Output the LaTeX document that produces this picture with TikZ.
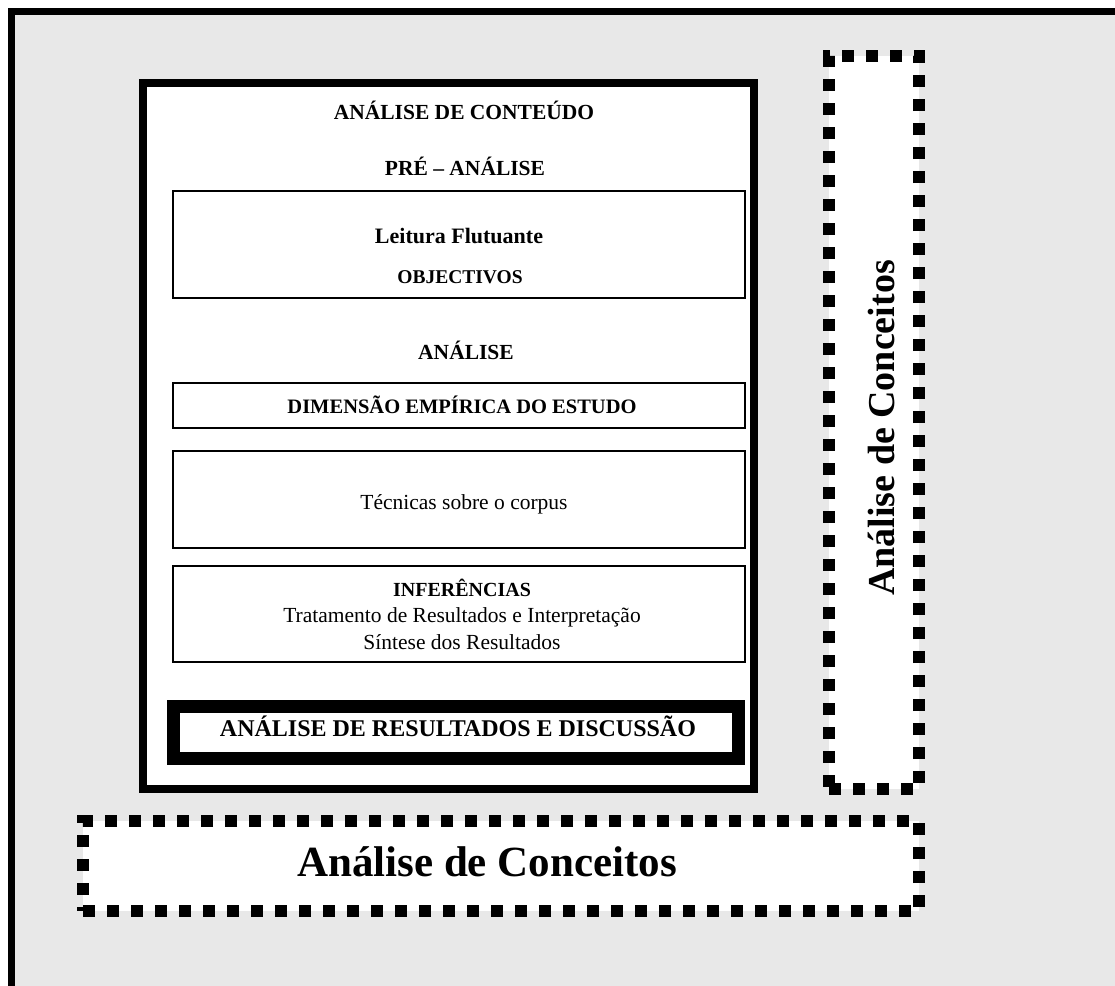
\documentclass[tikz,border=0pt]{standalone}
\usepackage{fontspec}
\setmainfont{Liberation Serif}
\usetikzlibrary{positioning}
\definecolor{paper}{HTML}{E8E8E8}
\tikzset{
  framebox/.style={draw, line width=8pt, fill=white, inner sep=0pt},
  thinbox/.style={draw, line width=2.5pt, fill=white, inner sep=0pt, minimum width=572pt},
  heavybox/.style={draw, line width=13pt, fill=white, inner sep=0pt},
  dotbox/.style={draw, line width=12pt, dash pattern=on 12pt off 12pt, fill=white, inner sep=0pt},
  titletext/.style={font=\fontsize{21.5}{25}\selectfont\bfseries, anchor=base, inner sep=0pt},
  subhead/.style={font=\fontsize{19.5}{23}\selectfont\bfseries, anchor=base, inner sep=0pt},
  bodytext/.style={font=\fontsize{21.5}{26.5}\selectfont, align=center, inner sep=0pt}
}
\begin{document}
\begin{tikzpicture}[x=1pt, y=-1pt]
    \useasboundingbox (0,0) rectangle (1115,985);
    \clip (0,0) rectangle (1115,985);

    % page and frame
    \fill[paper] (11,11) rectangle (1125,995);
    \draw[line width=7pt] (11,1000) -- (11,11) -- (1130,11);

    % main box
    \node[framebox, minimum width=611pt, minimum height=706pt] (conteudo) at (448.5,436) {};
    \node[titletext] (tconteudo) at (464,119) {ANÁLISE DE CONTEÚDO};
    \node[titletext] (tpre) at (465,175) {PRÉ – ANÁLISE};

    % pre-analise
    \node[thinbox, minimum height=107pt] (pre) at (459,244.5) {};
    \node[subhead, font=\fontsize{22}{26}\selectfont\bfseries] (leitura) at (459,243) {Leitura Flutuante};
    \node[subhead] (objectivos) at (460,283) {OBJECTIVOS};

    % analise
    \node[titletext] (tanalise) at (466,359) {ANÁLISE};
    \node[thinbox, minimum height=45pt] (dimensao) at (459,405.5) {};
    \node[subhead, font=\fontsize{20.5}{24}\selectfont\bfseries] (tdimensao) at (462,413) {DIMENSÃO EMPÍRICA DO ESTUDO};
    \node[thinbox, minimum height=97pt] (tecnicas) at (459,499.5) {};
    \node[bodytext, anchor=base] (ttecnicas) at (464,509) {Técnicas sobre o corpus};
    \node[thinbox, minimum height=96pt] (inferencias) at (459,614) {};
    \node[bodytext] (tinferencias) at (462,614) {{\fontsize{20}{26.5}\selectfont\bfseries INFERÊNCIAS}\\Tratamento de Resultados e Interpretação\\Síntese dos Resultados};

    % resultados
    \node[heavybox, minimum width=565pt, minimum height=52pt] (resultados) at (456,732.5) {};
    \node[titletext, font=\fontsize{24}{28}\selectfont\bfseries] (tresultados) at (458,736) {ANÁLISE DE RESULTADOS E DISCUSSÃO};

    % conceitos
    \node[dotbox, minimum width=90pt, minimum height=733pt] (lateral) at (874,422.5) {};
    \node[rotate=90, inner sep=0pt, font=\fontsize{38}{42}\selectfont\bfseries] (tlateral) at (881,428) {Análise de Conceitos};
    \node[dotbox, minimum width=836pt, minimum height=90pt] (inferior) at (501,866) {};
    \node[titletext, font=\fontsize{43}{48}\selectfont\bfseries] (tinferior) at (487,876) {Análise de Conceitos};
\end{tikzpicture}
\end{document}
